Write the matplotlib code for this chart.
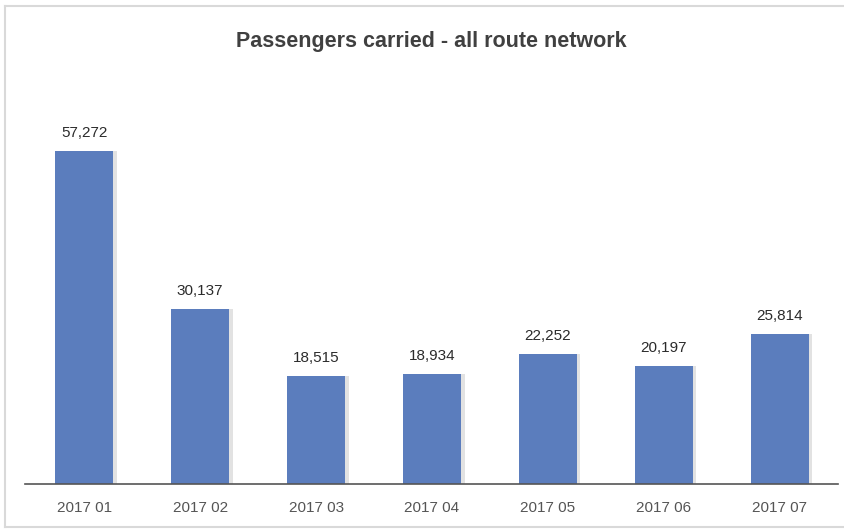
import matplotlib
matplotlib.use("Agg")
import matplotlib.pyplot as plt
from matplotlib.lines import Line2D

plt.rcParams["font.family"] = ["Liberation Sans Narrow", "Liberation Sans", "DejaVu Sans"]

months = ["2017 01", "2017 02", "2017 03", "2017 04", "2017 05", "2017 06", "2017 07"]
passengers = [57272, 30137, 18515, 18934, 22252, 20197, 25814]

bar_color = "#5b7dbd"
shadow_color = "#e2e2e2"

fig = plt.figure(figsize=(8.45, 5.29), dpi=100)
ax = fig.add_axes([0.0296, 0.0851, 0.962, 0.726])

x = list(range(len(months)))

# soft drop shadow behind each bar
ax.bar([i + 0.03 for i in x], passengers, width=0.5, color=shadow_color, zorder=1)
bars = ax.bar(x, passengers, width=0.5, color=bar_color, zorder=2)

for rect, val in zip(bars, passengers):
    ax.annotate(f"{val:,}", xy=(rect.get_x() + rect.get_width() / 2, val),
                xytext=(0, 8), textcoords="offset points",
                ha="center", va="bottom", fontsize=11, color="#2b2b2b")

ax.set_xlim(-0.51, 6.5)
ax.set_ylim(0, 66000)
ax.set_xticks(x)
ax.set_xticklabels(months, fontsize=11, color="#555555")
ax.tick_params(axis="x", length=0, pad=12)
ax.set_yticks([])

for side in ["top", "right", "left"]:
    ax.spines[side].set_visible(False)
ax.spines["bottom"].set_color("#555555")
ax.spines["bottom"].set_linewidth(1.2)
ax.spines["bottom"].set_zorder(3)

fig.text(0.51, 0.922, "Passengers carried - all route network",
         ha="center", va="center", fontsize=15.5, fontweight="bold", color="#404040")

# light frame: left, top and bottom edges only
frame = dict(transform=fig.transFigure, color="#d9d9d9", linewidth=1.5)
fig.lines.append(Line2D([0.006, 0.006], [0.004, 0.988], **frame))
fig.lines.append(Line2D([0.006, 1.0], [0.988, 0.988], **frame))
fig.lines.append(Line2D([0.006, 1.0], [0.004, 0.004], **frame))

fig.savefig("out.png", dpi=100)
